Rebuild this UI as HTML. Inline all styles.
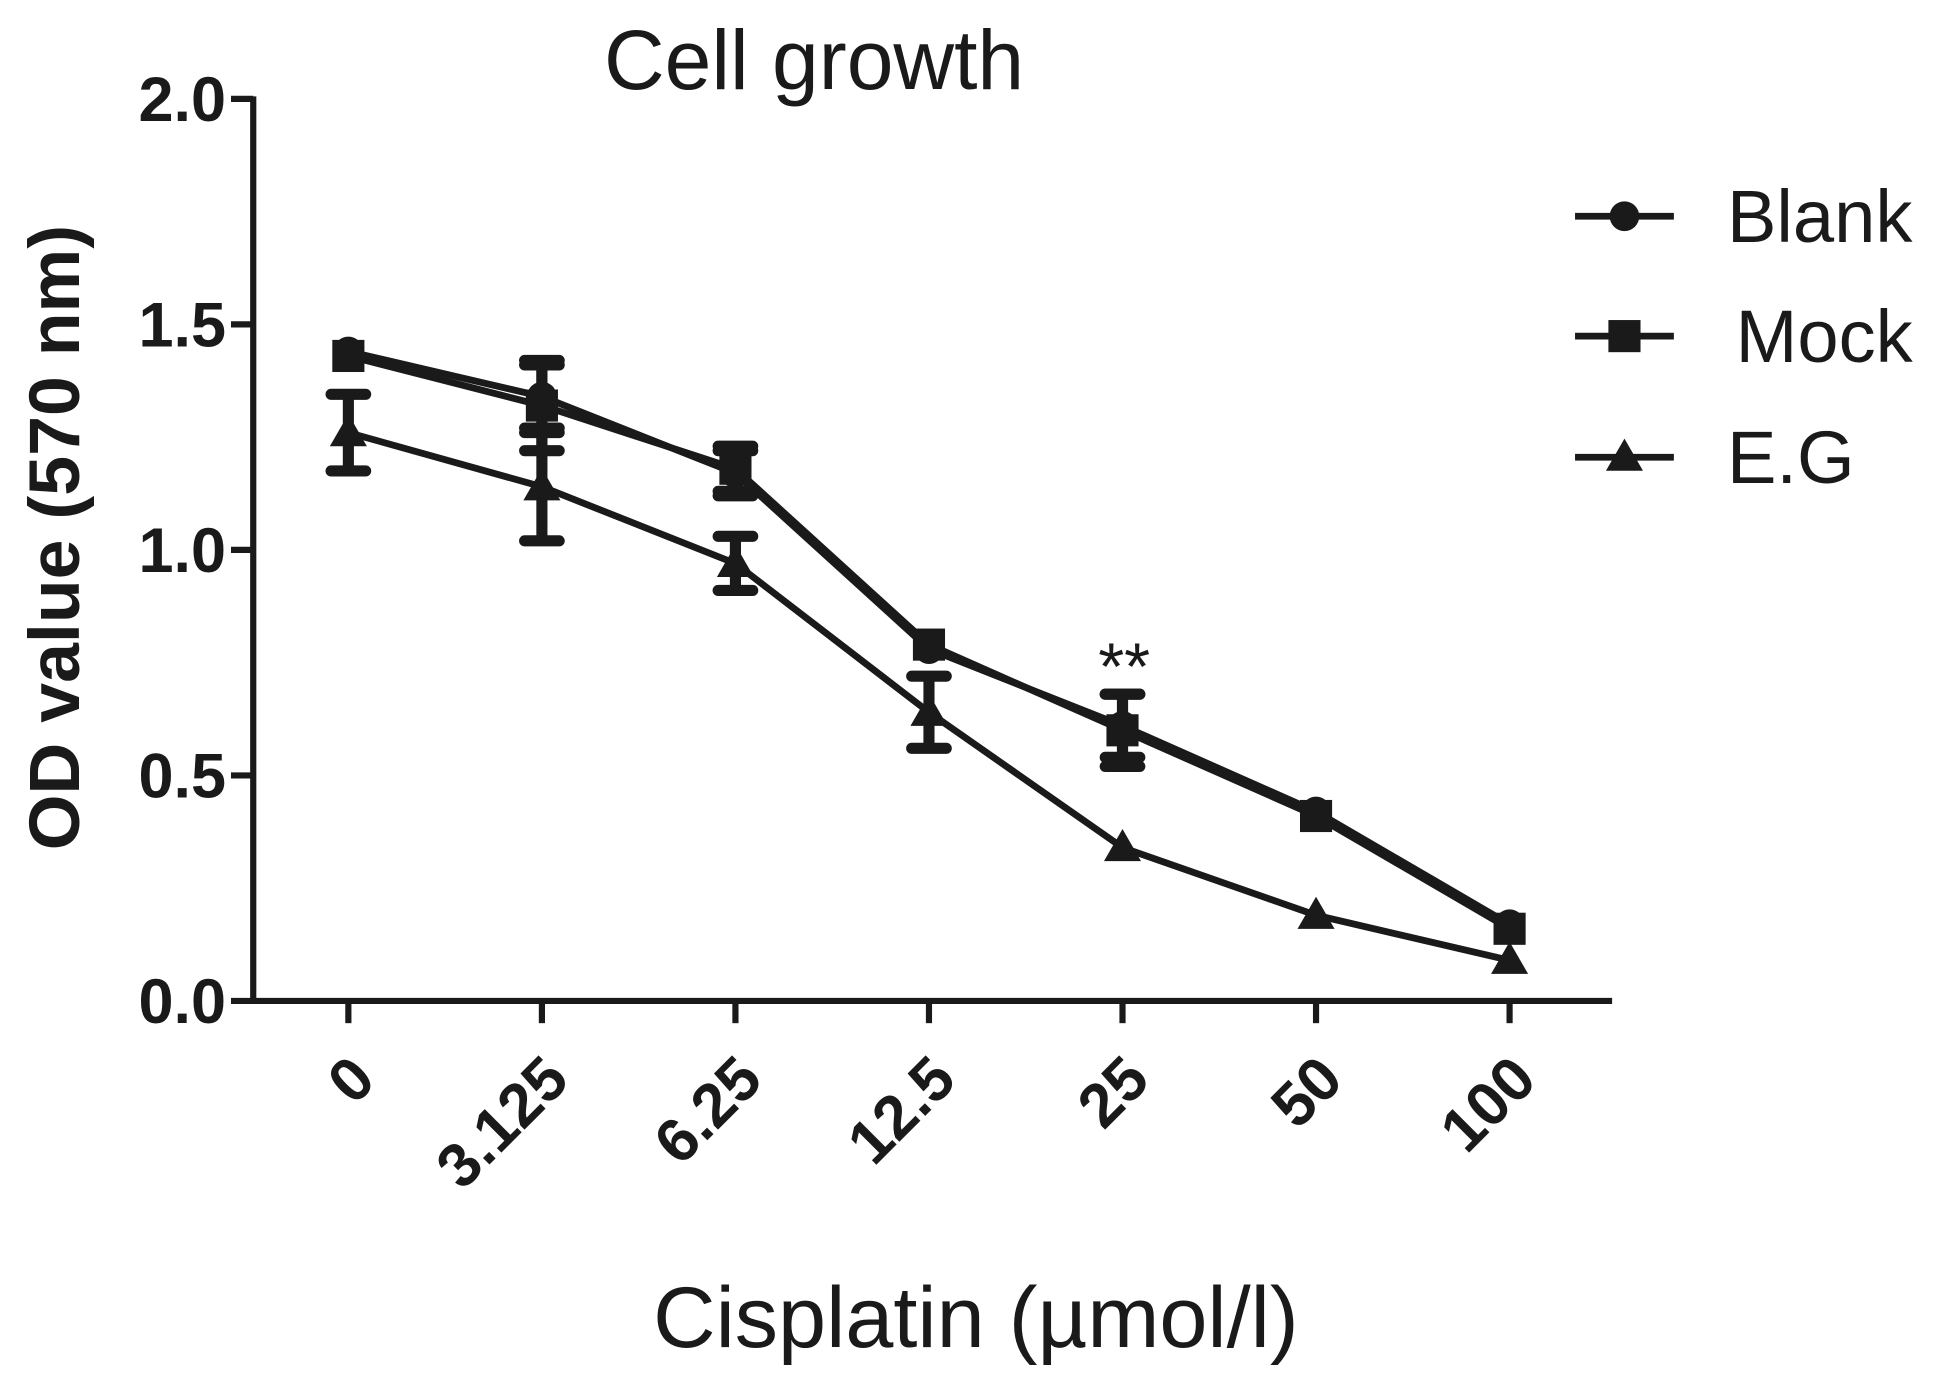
<!DOCTYPE html>
<html><head><meta charset="utf-8"><style>
html,body{margin:0;padding:0;background:#fff;}
svg{display:block;}
text{font-family:"Liberation Sans",Arial,sans-serif;fill:#1a1a1a;}
</style></head><body>
<svg id="chart" width="1937" height="1384" viewBox="0 0 1568 1120" preserveAspectRatio="none" xmlns="http://www.w3.org/2000/svg">
<text x="659" y="72" font-size="68" text-anchor="middle">Cell growth</text>
<text transform="translate(64,435) rotate(-90)" font-size="58" font-weight="bold" text-anchor="middle">OD value (570 nm)</text>
<text x="790" y="1090" font-size="70" text-anchor="middle">Cisplatin (µmol/l)</text>
<g id="axes"></g>
<g id="series"></g>
<g id="legend"></g>
<text x="910" y="558" font-size="54" text-anchor="middle">**</text>
</svg>
<script>
const categories = ["0","3.125","6.25","12.5","25","50","100"];
const yTicks = [0,0.5,1.0,1.5,2.0];
const yTickLabels = ["0.0","0.5","1.0","1.5","2.0"];
const blankVals = [1.44,1.34,1.17,0.78,0.61,0.42,0.17];
const mockVals  = [1.43,1.32,1.18,0.79,0.60,0.41,0.16];
const egVals    = [1.26,1.14,0.97,0.64,0.34,0.19,0.09];
const blankErr  = [0,0.07,0.05,0,0.07,0,0];
const mockErr   = [0,0.10,0.05,0,0.08,0,0];
const egErr     = [0.085,0.12,0.06,0.08,0,0,0];
const seriesNames = ["Blank","Mock","E.G"];

const NS="http://www.w3.org/2000/svg";
function mk(tag,attrs,parent){const e=document.createElementNS(NS,tag);for(const k in attrs)e.setAttribute(k,attrs[k]);parent.appendChild(e);return e;}
const x0=205,x1=1305,yTop=80,yBot=810;
function yScale(v){return yBot-(v/2.0)*(yBot-yTop);}
function xScale(i){return 282+i*(1222-282)/(categories.length-1);}
const axes=document.getElementById('axes');
let a=mk('line',{x1:x0,y1:yTop-2,x2:x0,y2:yBot+2.5,stroke:'#1a1a1a','stroke-width':5},axes);


a=mk('line',{x1:x0-2.5,y1:yBot,x2:x1,y2:yBot,stroke:'#1a1a1a','stroke-width':5},axes);


yTicks.forEach((v,i)=>{
 const t=mk('line',{x1:x0-18,y1:yScale(v),x2:x0,y2:yScale(v),stroke:'#1a1a1a','stroke-width':5},axes);
 
 
 const l=mk('text',{x:x0-22,y:yScale(v)+18,'font-size':51,'font-weight':'bold','text-anchor':'end'},axes);
 l.textContent=yTickLabels[i];
 
 
});
categories.forEach((c,i)=>{
 const x=xScale(i);
 const t=mk('line',{x1:x,y1:yBot,x2:x,y2:yBot+18,stroke:'#1a1a1a','stroke-width':5},axes);
 
 
 const l=mk('text',{transform:`translate(${x+24},${yBot+66}) rotate(-45)`,'font-size':50,'font-weight':'bold','text-anchor':'end'},axes);
 l.textContent=c;
 
 
});
const ser=document.getElementById('series');
function marker(type,x,y,parent){
 let m;
 if(type===0)m=mk('circle',{cx:x,cy:y,r:12,fill:'#1a1a1a'},parent);
 else if(type===1)m=mk('rect',{x:x-13,y:y-13,width:26,height:26,fill:'#1a1a1a'},parent);
 else m=mk('polygon',{points:`${x},${y-15} ${x+15},${y+11} ${x-15},${y+11}`,fill:'#1a1a1a'},parent);
 return m;
}
const allVals=[blankVals,mockVals,egVals],allErr=[blankErr,mockErr,egErr];
allVals.forEach((vals,s)=>{
 const g=mk('g',{},ser);
 
 
 const pts=vals.map((v,i)=>xScale(i)+','+yScale(v)).join(' ');
 const pl=mk('polyline',{points:pts,fill:'none',stroke:'#1a1a1a','stroke-width':5.5},g);
 
 
 vals.forEach((v,i)=>{
  const x=xScale(i),e=allErr[s][i];
  if(e>0.015){
   const eb=mk('path',{d:`M${x},${yScale(v+e)}V${yScale(v-e)}M${x-14},${yScale(v+e)}H${x+14}M${x-14},${yScale(v-e)}H${x+14}`,stroke:'#1a1a1a','stroke-width':9,'stroke-linecap':'round',fill:'none'},g);
   
   
  }
  const m=marker(s,x,yScale(v),g);
  
  
 });
});
const leg=document.getElementById('legend');
const legY=[175,272,370],legTx=[1398,1405,1398];
seriesNames.forEach((n,s)=>{
 const g=mk('g',{},leg);
 
 
 mk('line',{x1:1275,y1:legY[s],x2:1355,y2:legY[s],stroke:'#1a1a1a','stroke-width':5.5},g);
 marker(s,1315,legY[s],g);
 const t=mk('text',{x:legTx[s],y:legY[s]+21,'font-size':60},g);
 t.textContent=n;
});
</script>
</body></html>
